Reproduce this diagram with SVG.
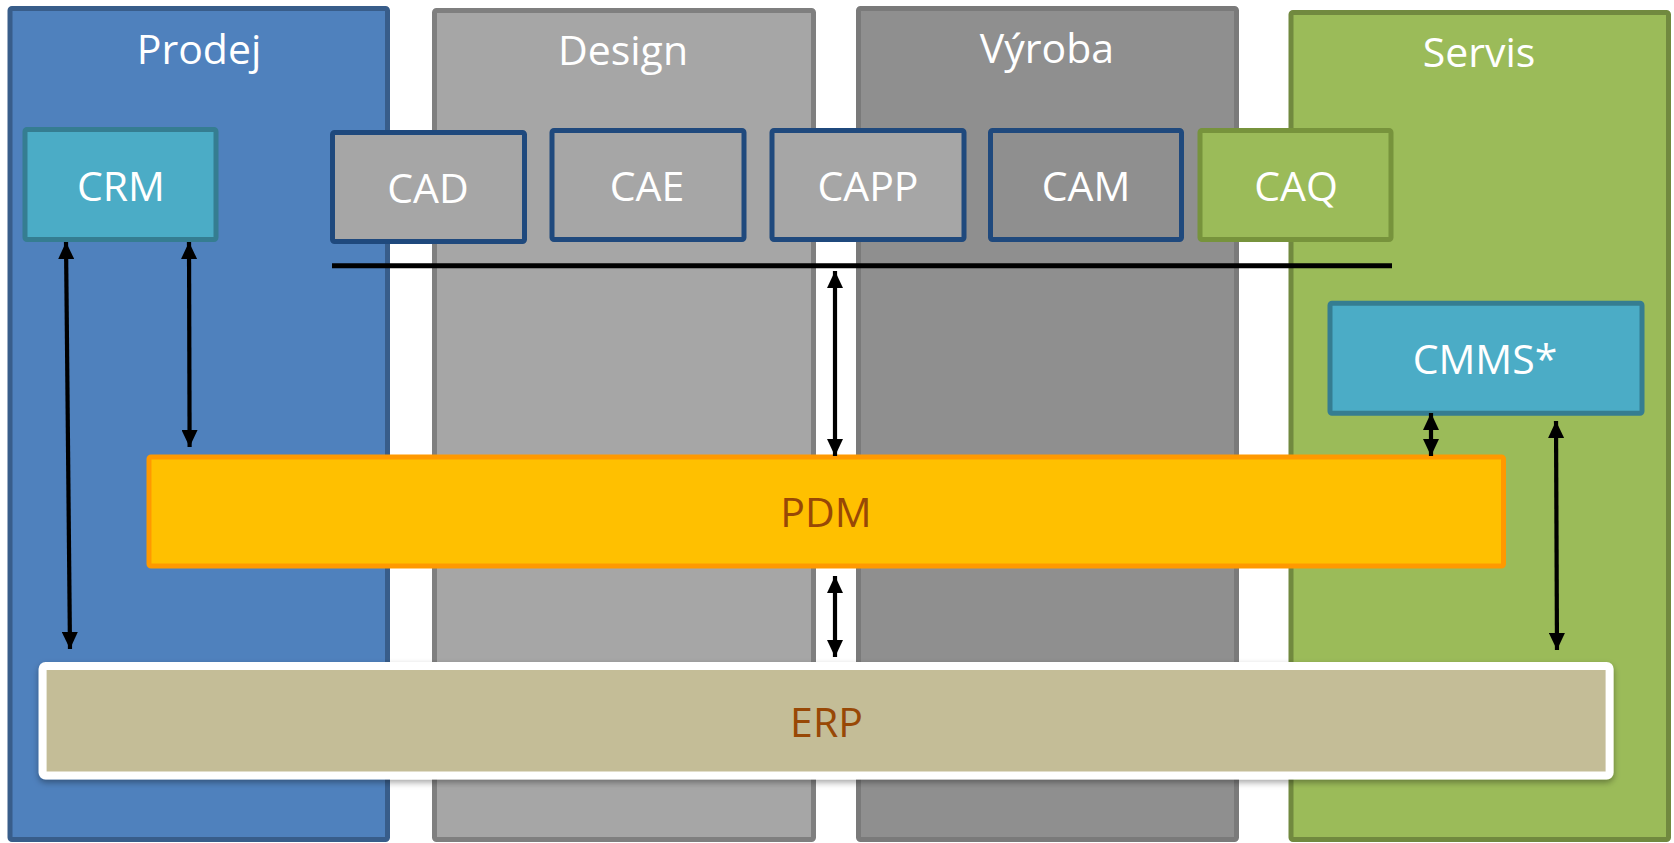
<svg xmlns="http://www.w3.org/2000/svg" width="1674" height="843" viewBox="0 0 1674 843">
<defs>
<style>
.col{stroke-width:5}
.box{stroke-width:5}
.t{font-family:"Open Sans","Liberation Sans",sans-serif;font-size:41px;fill:#ffffff;text-anchor:middle}
.tb{font-family:"Open Sans","Liberation Sans",sans-serif;font-size:41px;fill:#984806;text-anchor:middle}
.gray{fill:#a6a6a6;stroke:#1f497d}
.dark{fill:#8f8f8f;stroke:#1f497d}
.cyan{fill:#4bacc6;stroke:#357d91}
.arr{stroke:#000;stroke-width:4.2;fill:none;marker-start:url(#ah);marker-end:url(#ah)}
</style>
<marker id="ah" viewBox="0 0 17 16" refX="17" refY="8" markerWidth="17" markerHeight="16" markerUnits="userSpaceOnUse" orient="auto-start-reverse">
<path d="M0,0 L17,8 L0,16 z" fill="#000"/>
</marker>
<filter id="sh" x="-5%" y="-20%" width="110%" height="150%">
<feDropShadow dx="0" dy="3" stdDeviation="3" flood-color="#000" flood-opacity="0.35"/>
</filter>
</defs>

<g id="col-prodej">
<rect class="col" x="10" y="8.5" width="377.5" height="831" rx="2" fill="#4f81bd" stroke="#385d8a"/>
<text class="t" x="199" y="64">Prodej</text>
</g>
<g id="col-design">
<rect class="col" x="434.5" y="10.5" width="379" height="829" rx="2" fill="#a6a6a6" stroke="#7f7f7f"/>
<text class="t" x="623" y="65">Design</text>
</g>
<g id="col-vyroba">
<rect class="col" x="858.5" y="8.5" width="378" height="831" rx="2" fill="#8f8f8f" stroke="#7a7a7a"/>
<text class="t" x="1047" y="63">Výroba</text>
</g>
<g id="col-servis">
<rect class="col" x="1291" y="12.5" width="377.5" height="827" rx="2" fill="#9bbb59" stroke="#71893f"/>
<text class="t" x="1479" y="67">Servis</text>
</g>

<g id="crm">
<rect class="box cyan" x="25" y="129.5" width="191" height="110" rx="2"/>
<text class="t" x="121" y="201">CRM</text>
</g>
<g id="cad">
<rect class="box gray" x="332.5" y="132.5" width="192" height="109" rx="2"/>
<text class="t" x="428" y="203">CAD</text>
</g>
<g id="cae">
<rect class="box gray" x="552" y="130.5" width="192" height="109" rx="2"/>
<text class="t" x="647" y="201">CAE</text>
</g>
<g id="capp">
<rect class="box gray" x="772" y="130.5" width="192" height="109" rx="2"/>
<text class="t" x="868" y="201">CAPP</text>
</g>
<g id="cam">
<rect class="box dark" x="990.5" y="130.5" width="191" height="109" rx="2"/>
<text class="t" x="1086" y="201">CAM</text>
</g>
<g id="caq">
<rect class="box" x="1200" y="130.5" width="191" height="109" rx="2" fill="#9bbb59" stroke="#77933c"/>
<text class="t" x="1296" y="201">CAQ</text>
</g>
<g id="cmms">
<rect class="box cyan" x="1330" y="303.3" width="312" height="110" rx="2"/>
<text class="t" x="1485" y="374">CMMS*</text>
</g>
<g id="pdm">
<rect class="box" x="149" y="457" width="1354.5" height="109" rx="2" fill="#ffc000" stroke="#ff9900"/>
<text class="tb" x="826" y="527">PDM</text>
</g>
<g id="erp">
<rect x="42.6" y="666" width="1567" height="109.5" rx="3" fill="#c4bd97" stroke="#ffffff" stroke-width="8" filter="url(#sh)"/>
<text class="tb" x="826.5" y="737">ERP</text>
</g>

<g id="connectors">
<line x1="332" y1="265.7" x2="1392" y2="265.7" stroke="#000" stroke-width="5"/>
<line class="arr" x1="66" y1="242" x2="70" y2="649"/>
<line class="arr" x1="189" y1="242" x2="189.6" y2="447"/>
<line class="arr" x1="835" y1="271" x2="835" y2="456"/>
<line class="arr" x1="835" y1="576" x2="835" y2="657"/>
<line class="arr" x1="1431" y1="413" x2="1431" y2="456"/>
<line class="arr" x1="1556" y1="421" x2="1557" y2="650"/>
</g>
</svg>
